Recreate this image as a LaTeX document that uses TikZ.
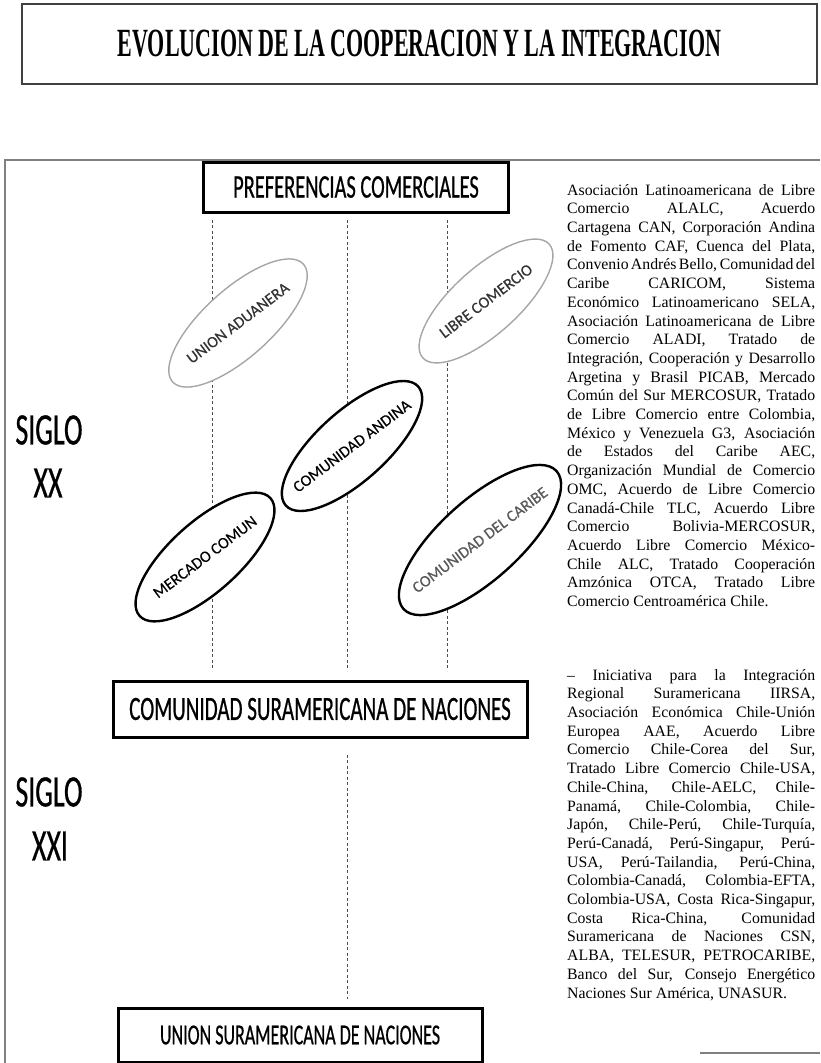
\documentclass[tikz,border=0pt]{standalone}
\usepackage{fontspec}
\setmainfont{Liberation Serif}
\newfontfamily\titlefont[FakeStretch=0.55]{Liberation Serif}
\newfontfamily\boxfont[FakeStretch=0.62,FakeBold=0.6]{Carlito}
\newfontfamily\ovalfont[FakeBold=0.4]{Carlito}
\usepackage{tikz}
\usetikzlibrary{shapes}
\newcommand{\listfont}{\fontsize{15.8}{18.7}\selectfont\spaceskip=0.25em plus 1em minus 0.15em\relax}
\tikzstyle{titlebox} = [rectangle, draw=black!75, line width=2.5pt, inner sep=0pt]
\tikzstyle{block} = [rectangle, draw, line width=3pt, fill=white, inner sep=0pt]
\tikzstyle{oval} = [ellipse, draw, fill=white, inner sep=0pt, rotate=42, font=\ovalfont\fontsize{16}{16}\selectfont]
\tikzstyle{lightoval} = [oval, draw=black!35, line width=1.4pt, text=black!80]
\tikzstyle{darkoval} = [oval, draw=black, line width=2.4pt]
\tikzstyle{siglo} = [inner sep=0pt, font=\boxfont\fontsize{45}{45}\selectfont]
\tikzstyle{dashline} = [draw=black!70, line width=0.9pt, dash pattern=on 3pt off 2.5pt]
\tikzstyle{listtext} = [anchor=north west, inner sep=0pt, align=left, font=\listfont]
\tikzstyle{frame} = [draw=black!50, line width=2pt]
\newcommand{\fullline}[1]{\makebox[248pt][s]{#1}}
\newcommand{\ovaltext}[1]{\makebox[0pt]{\rotatebox[origin=c]{-5}{#1}}}

\begin{document}
\begin{tikzpicture}[x=1pt,y=-1pt]
\useasboundingbox (0,0) rectangle (820,1063);
\path [frame] (820,160) -- (5,160) -- (5,1063);
\path [frame] (700,1053) -- (820,1053);

\node [titlebox, minimum width=795pt, minimum height=80pt] (title) at (419.5,44)
  {\titlefont\bfseries\fontsize{40}{40}\selectfont EVOLUCION DE LA COOPERACION Y LA INTEGRACION};

\node [block, minimum width=305pt, minimum height=50pt, font=\boxfont\fontsize{33}{33}\selectfont] (pref) at (356,187) {PREFERENCIAS COMERCIALES};
\node [block, minimum width=414pt, minimum height=56pt, font=\boxfont\fontsize{34}{34}\selectfont] (csn) at (320,709) {COMUNIDAD SURAMERICANA DE NACIONES};
\node [block, minimum width=364pt, minimum height=54pt, font=\boxfont\fontsize{29}{29}\selectfont] (usn) at (300,1035) {UNION SURAMERICANA DE NACIONES};

\coordinate (colA) at (212,0);
\coordinate (colB) at (347,0);
\coordinate (colC) at (447,0);
\path [dashline, shorten <=6pt, shorten >=9pt] (pref.south -| colA) -- (csn.north -| colA);
\path [dashline, shorten <=6pt, shorten >=9pt] (pref.south -| colB) -- (csn.north -| colB);
\path [dashline, shorten <=6pt, shorten >=9pt] (pref.south -| colC) -- (csn.north -| colC);
\path [dashline, shorten <=16pt, shorten >=8pt] (csn.south -| colB) -- (usn.north -| colB);

\node [lightoval, minimum width=176pt, minimum height=68pt] (aduanera) at (238,323) {\ovaltext{UNION ADUANERA}};
\node [lightoval, minimum width=170pt, minimum height=66pt] (libre) at (486,301) {\ovaltext{LIBRE COMERCIO}};
\node [darkoval, minimum width=178pt, minimum height=70pt] (andina) at (352,446) {\ovaltext{COMUNIDAD ANDINA}};
\node [darkoval, minimum width=176pt, minimum height=70pt] (mercado) at (205,557) {\ovaltext{MERCADO COMUN}};
\node [darkoval, minimum width=206pt, minimum height=80pt, text=black!65] (caribe) at (480,540) {\ovaltext{COMUNIDAD DEL CARIBE}};

\node [siglo] (sigloA) at (49,430) {SIGLO};
\node [siglo] (xx) at (48,483) {XX};
\node [siglo] (sigloB) at (49,792) {SIGLO};
\node [siglo] (xxi) at (50,846) {XXI};

\node [listtext] (lista) at (567,184) {%
\fullline{Asociación Latinoamericana de Libre}\\
\fullline{Comercio ALALC, Acuerdo}\\
\fullline{Cartagena CAN, Corporación Andina}\\
\fullline{de Fomento CAF, Cuenca del Plata,}\\
\fullline{Convenio Andrés Bello, Comunidad del}\\
\fullline{Caribe CARICOM, Sistema}\\
\fullline{Económico Latinoamericano SELA,}\\
\fullline{Asociación Latinoamericana de Libre}\\
\fullline{Comercio ALADI, Tratado de}\\
\fullline{Integración, Cooperación y Desarrollo}\\
\fullline{Argetina y Brasil PICAB, Mercado}\\
\fullline{Común del Sur MERCOSUR, Tratado}\\
\fullline{de Libre Comercio entre Colombia,}\\
\fullline{México y Venezuela G3, Asociación}\\
\fullline{de Estados del Caribe AEC,}\\
\fullline{Organización Mundial de Comercio}\\
\fullline{OMC, Acuerdo de Libre Comercio}\\
\fullline{Canadá-Chile TLC, Acuerdo Libre}\\
\fullline{Comercio Bolivia-MERCOSUR,}\\
\fullline{Acuerdo Libre Comercio México-}\\
\fullline{Chile ALC, Tratado Cooperación}\\
\fullline{Amzónica OTCA, Tratado Libre}\\
Comercio Centroamérica Chile.};

\node [listtext] (listb) at (567,669) {%
\fullline{– Iniciativa para la Integración}\\
\fullline{Regional Suramericana IIRSA,}\\
\fullline{Asociación Económica Chile-Unión}\\
\fullline{Europea AAE, Acuerdo Libre}\\
\fullline{Comercio Chile-Corea del Sur,}\\
\fullline{Tratado Libre Comercio Chile-USA,}\\
\fullline{Chile-China, Chile-AELC, Chile-}\\
\fullline{Panamá, Chile-Colombia, Chile-}\\
\fullline{Japón, Chile-Perú, Chile-Turquía,}\\
\fullline{Perú-Canadá, Perú-Singapur, Perú-}\\
\fullline{USA, Perú-Tailandia, Perú-China,}\\
\fullline{Colombia-Canadá, Colombia-EFTA,}\\
\fullline{Colombia-USA, Costa Rica-Singapur,}\\
\fullline{Costa Rica-China, Comunidad}\\
\fullline{Suramericana de Naciones CSN,}\\
\fullline{ALBA, TELESUR, PETROCARIBE,}\\
\fullline{Banco del Sur, Consejo Energético}\\
Naciones Sur América, UNASUR.};
\end{tikzpicture}
\end{document}
